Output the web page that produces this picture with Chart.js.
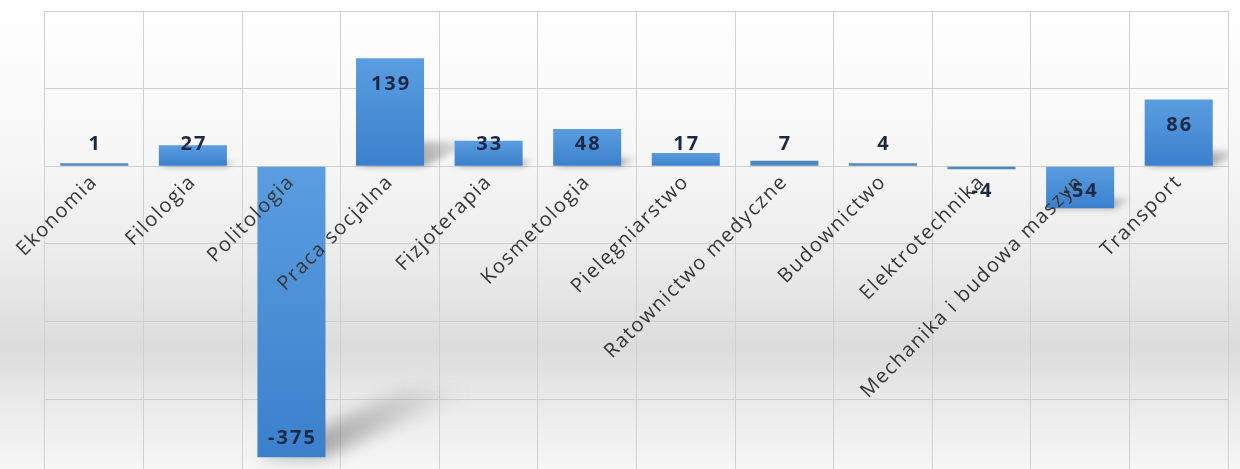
<!DOCTYPE html>
<html>
<head>
<meta charset="utf-8">
<script src="https://cdn.jsdelivr.net/npm/chart.js@4.4.1/dist/chart.umd.min.js"></script>
<style>
html,body{margin:0;padding:0;background:#fff;}
#wrap{width:1240px;height:469px;}
</style>
</head>
<body>
<div id="wrap"><canvas id="c" width="1240" height="469"></canvas></div>
<script>
const categories = ["Ekonomia","Filologia","Politologia","Praca socjalna","Fizjoterapia","Kosmetologia","Pielęgniarstwo","Ratownictwo medyczne","Budownictwo","Elektrotechnika","Mechanika i budowa maszyn","Transport"];
const values = [1, 27, -375, 139, 33, 48, 17, 7, 4, -4, -54, 86];
const yTicks = [-300, -200, -100, 0, 100, 200];
const yMin = -390;
const yMax = 200;

const bgPlugin = {
  id: 'bg',
  beforeDraw(chart) {
    const ctx = chart.ctx, h = chart.height, w = chart.width;
    const g = ctx.createLinearGradient(0, 0, 0, h);
    g.addColorStop(0, '#ffffff');
    g.addColorStop(0.35, '#f6f6f6');
    g.addColorStop(0.55, '#ebebeb');
    g.addColorStop(0.74, '#dcdcdc');
    g.addColorStop(0.86, '#eaeaea');
    g.addColorStop(1, '#f6f6f6');
    ctx.save();
    ctx.fillStyle = g;
    ctx.fillRect(0, 0, w, h);
    ctx.restore();
  }
};

const shadowPlugin = {
  id: 'shadows',
  beforeDatasetsDraw(chart) {
    const ctx = chart.ctx;
    const area = chart.chartArea;
    const meta = chart.getDatasetMeta(0);
    const zero = chart.scales.y.getPixelForValue(0);
    ctx.save();
    ctx.beginPath();
    ctx.rect(area.left, area.top, area.right - area.left, area.bottom - area.top);
    ctx.clip();
    meta.data.forEach((bar) => {
      const top = Math.min(bar.y, zero), bot = Math.max(bar.y, zero);
      const H = bot - top;
      if (H < 20) return;
      const L = bar.x - bar.width / 2, R = bar.x + bar.width / 2;
      const dx = 0.5 * H, dy = 0.23 * H;
      const g = ctx.createLinearGradient(R, bot, R + dx, bot - dy);
      g.addColorStop(0, 'rgba(90,90,90,0.5)');
      g.addColorStop(1, 'rgba(120,120,120,0.0)');
      ctx.filter = 'blur(' + Math.max(3, H / 36).toFixed(1) + 'px)';
      ctx.fillStyle = g;
      ctx.beginPath();
      ctx.moveTo(L, bot);
      ctx.lineTo(R, bot);
      ctx.lineTo(R + dx, bot - dy);
      ctx.lineTo(L + dx, bot - dy);
      ctx.closePath();
      ctx.fill();
    });
    ctx.filter = 'none';
    ctx.restore();
  }
};

const labelPlugin = {
  id: 'vlabels',
  afterDatasetsDraw(chart) {
    const ctx = chart.ctx;
    const meta = chart.getDatasetMeta(0);
    const zero = chart.scales.y.getPixelForValue(0);
    ctx.save();
    ctx.font = 'bold 20px "Open Sans", sans-serif';
    ctx.letterSpacing = '2px';
    ctx.fillStyle = '#1b2846';
    ctx.textAlign = 'center';
    ctx.textBaseline = 'middle';
    meta.data.forEach((bar, i) => {
      const v = values[i];
      let y;
      if (v >= 0) y = Math.min(bar.y + 26, zero - 22);
      else y = Math.max(bar.y - 19, zero + 25);
      ctx.fillText(String(v), bar.x + 1, y);
    });
    ctx.restore();
    // letter spacing for the category tick labels drawn next (z: 1)
    ctx.letterSpacing = '1.5px';
  },
  afterDraw(chart) {
    chart.ctx.letterSpacing = '0px';
  }
};

function barColor(context) {
  const chart = context.chart;
  const ys = chart.scales && chart.scales.y;
  if (!ys || !chart.chartArea) return '#4a8fd6';
  const v = values[context.dataIndex];
  const zero = ys.getPixelForValue(0);
  const p = ys.getPixelForValue(v);
  const top = Math.min(zero, p), bot = Math.max(zero, p);
  if (bot - top < 6) return '#4f87bf';
  const g = chart.ctx.createLinearGradient(0, top, 0, bot);
  g.addColorStop(0, '#5a9de0');
  g.addColorStop(1, '#3b80cc');
  return g;
}

new Chart(document.getElementById('c'), {
  type: 'bar',
  data: {
    labels: categories,
    datasets: [{
      data: values,
      backgroundColor: barColor,
      borderWidth: 0,
      minBarLength: 3,
      categoryPercentage: 1.0,
      barPercentage: 0.69
    }]
  },
  options: {
    responsive: false,
    animation: false,
    layout: { padding: { left: 45, right: 12, top: 11, bottom: 0 } },
    plugins: { legend: { display: false }, tooltip: { enabled: false } },
    scales: {
      x: {
        position: { y: 0 },
        grid: { color: '#d0d0d0', lineWidth: 1, drawTicks: false, offset: true },
        border: { display: false },
        ticks: {
          z: 1,
          autoSkip: false,
          minRotation: 45,
          maxRotation: 45,
          padding: 4,
          color: '#363636',
          font: { family: '"Open Sans", sans-serif', size: 20 }
        },
        afterFit(scale) { scale.height = 0; scale.paddingLeft = 0; scale.paddingRight = 0; }
      },
      y: {
        min: yMin,
        max: yMax,
        ticks: { display: false },
        grid: { color: '#cfcfcf', lineWidth: 1, drawTicks: false },
        border: { display: false },
        afterBuildTicks(scale) { scale.ticks = yTicks.map(v => ({ value: v })); }
      }
    }
  },
  plugins: [bgPlugin, shadowPlugin, labelPlugin]
});
</script>
</body>
</html>
